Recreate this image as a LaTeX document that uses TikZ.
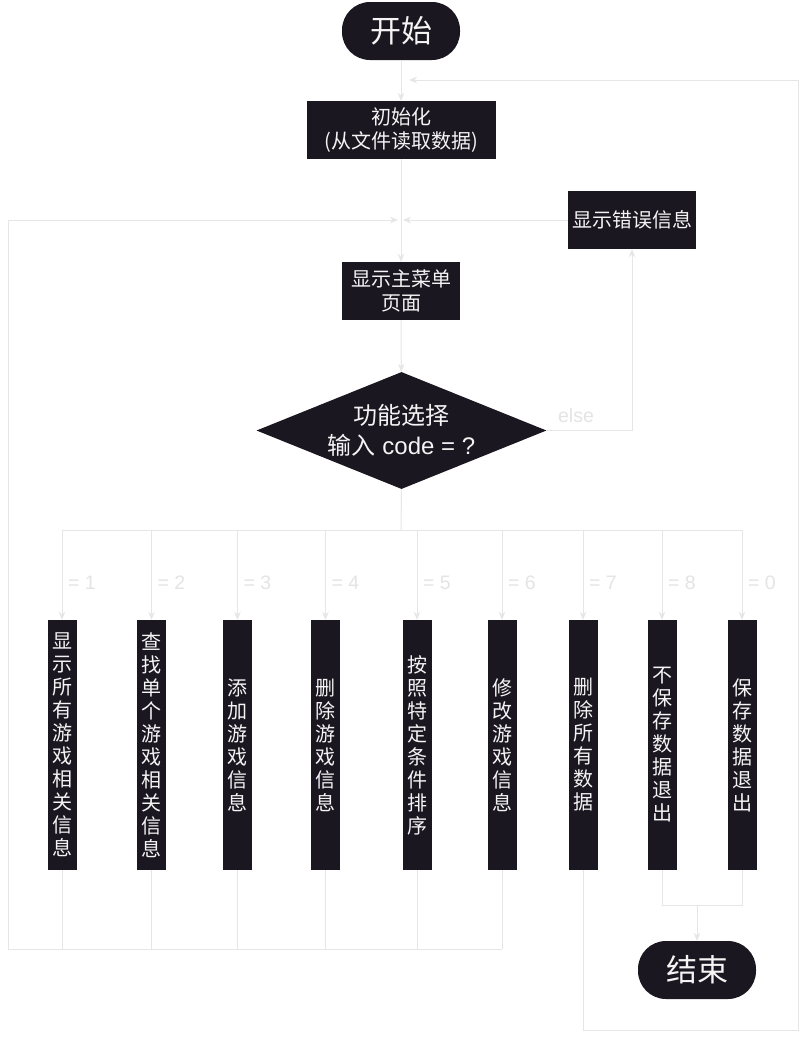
\documentclass[tikz,border=0pt]{standalone}
\usepackage{fontspec}
\setmainfont{Liberation Sans}
\newfontfamily\cjk{Noto Sans CJK SC}
\usetikzlibrary{shapes.geometric,arrows.meta}
\definecolor{boxfill}{HTML}{1A1720}
\definecolor{linec}{HTML}{E6E6E6}
\definecolor{labc}{HTML}{E4E4E4}
\definecolor{txtc}{HTML}{F4F4F4}
\begin{document}
\begin{tikzpicture}[x=1pt,y=-1pt,
  box/.style={rectangle, fill=boxfill, text=txtc, align=center, inner sep=0pt,
    font=\cjk\fontsize{20}{24}\selectfont},
  vbox/.style={box, minimum width=29pt, minimum height=250pt,
    font=\cjk\fontsize{20}{23}\selectfont},
  pill/.style={rectangle, fill=boxfill, text=txtc, rounded corners=28pt,
    minimum width=118pt, minimum height=58pt, inner sep=0pt,
    font=\cjk\fontsize{31}{32}\selectfont},
  dia/.style={diamond, fill=boxfill, text=txtc, align=center, inner sep=0pt,
    aspect=2.48, minimum width=290pt, minimum height=117pt,
    font=\fontsize{24}{30}\selectfont},
  conn/.style={draw=linec, line width=1pt},
  arr/.style={conn, -{Stealth[length=8pt,width=6.5pt]}},
  lab/.style={text=labc, font=\fontsize{19.5}{22}\selectfont, inner sep=0pt}]
\useasboundingbox (0,0) rectangle (806,1039);
\fill[white] (0,0) rectangle (806,1039);

% nodes
\node[pill] (start) at (401,31) {开始};
\node[box, minimum width=189pt, minimum height=58pt] (init) at (401,130) {初始化\\(从文件读取数据)};
\node[box, minimum width=128pt, minimum height=58pt] (err) at (632,220) {显示错误信息};
\node[box, minimum width=118pt, minimum height=58pt] (menu) at (401,291) {显示主菜单\\页面};
\node[dia] (dia) at (401.5,430.5) {{\cjk 功能选择}\\{\cjk 输入} code = ?};
\node[pill] (end) at (697,970) {结束};

\node[vbox] (v1) at (62,745) {显\\示\\所\\有\\游\\戏\\相\\关\\信\\息};
\node[vbox] (v2) at (151.5,745) {查\\找\\单\\个\\游\\戏\\相\\关\\信\\息};
\node[vbox] (v3) at (237.5,745) {添\\加\\游\\戏\\信\\息};
\node[vbox] (v4) at (325.5,745) {删\\除\\游\\戏\\信\\息};
\node[vbox] (v5) at (417,745) {按\\照\\特\\定\\条\\件\\排\\序};
\node[vbox] (v6) at (502,745) {修\\改\\游\\戏\\信\\息};
\node[vbox] (v7) at (583,745) {删\\除\\所\\有\\数\\据};
\node[vbox] (v8) at (662,745) {不\\保\\存\\数\\据\\退\\出};
\node[vbox] (v9) at (742,745) {保\\存\\数\\据\\退\\出};

% coordinates
\coordinate (top) at (401,80);
\coordinate (j1) at (401,220);
\coordinate (elsec) at (632,430.5);
\coordinate (split) at (401,530);
\coordinate (L1) at (8,949);
\coordinate (L2) at (8,220);
\coordinate (R1) at (798,1030);
\coordinate (R2) at (798,80);
\coordinate (m8) at (662,905);
\coordinate (m9) at (742,905);
\coordinate (mj) at (697,905);

% main spine
\draw[arr] (start) -- (init);
\draw[conn] (init) -- (j1);
\draw[arr] (j1) -- (menu);
\draw[arr, shorten >=2pt] (err) -- (j1);
\draw[arr] (menu) -- (dia);
\draw[arr] (dia.east) -- (elsec) -- (err.south);
\node[lab] (elselab) at (576,416) {else};

% branches
\draw[conn] (dia.south) -- (split);
\foreach \i/\x/\n in {1/62/1,2/151.5/2,3/237.5/3,4/325.5/4,5/417/5,6/502/6,7/583/7,8/662/8,9/742/0}{
  \coordinate (b\i) at (\x,530);
  \draw[arr] (b\i) -- (v\i);
  \node[lab, anchor=west] (lb\i) at (\x+6,583) {= \n};
}
\draw[conn] (b1) -- (b9);

% return loop (1-6)
\foreach \i/\x in {1/62,2/151.5,3/237.5,4/325.5,5/417,6/502}{
  \coordinate (c\i) at (\x,949);
  \draw[conn] (v\i) -- (c\i);
}
\draw[arr, shorten >=3pt] (c6) -- (L1) -- (L2) -- (j1);

% delete all -> back to init
\draw[arr, shorten >=8pt] (v7.south) |- (R1) -- (R2) -- (top);

% exit
\draw[conn] (v8) -- (m8) -- (m9) -- (v9);
\draw[arr] (mj) -- (end);
\end{tikzpicture}
\end{document}
